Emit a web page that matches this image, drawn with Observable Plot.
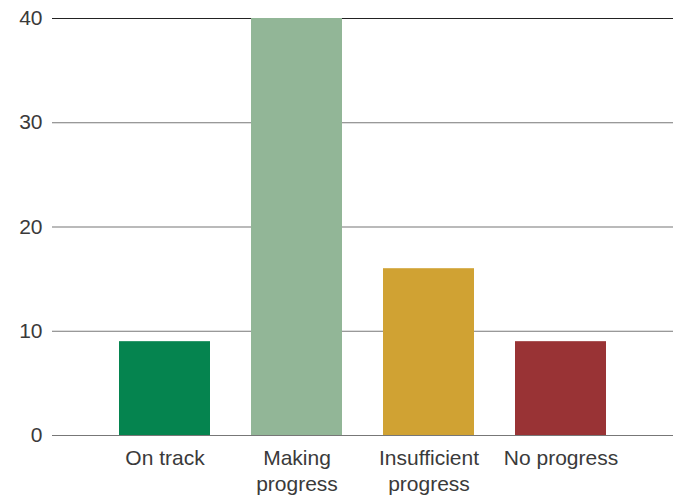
<!DOCTYPE html>
<html>
<head>
<meta charset="utf-8">
<script src="https://cdn.jsdelivr.net/npm/d3@7"></script>
<script src="https://cdn.jsdelivr.net/npm/@observablehq/plot@0.6"></script>
<style>
  html, body { margin: 0; padding: 0; background: #fff; }
</style>
</head>
<body>
<div id="chart"></div>
<script>
const categories = ["On track", "Making\nprogress", "Insufficient\nprogress", "No progress"];
const values = [9, 40, 16, 9];
const colors = ["#05844F", "#92B697", "#D0A233", "#993335"];
const yTicks = [0, 10, 20, 30, 40];

const data = categories.map((c, i) => ({category: c, value: values[i], color: colors[i]}));

const chart = Plot.plot({
  width: 673,
  height: 495,
  marginTop: 18,
  marginBottom: 60,
  marginLeft: 52,
  marginRight: 0,
  style: {fontFamily: "'Liberation Sans', Arial, sans-serif", fontSize: "21px", color: "#3a3a3a", background: "#fff"},
  x: {domain: categories, paddingInner: 0.308, paddingOuter: 0.489, align: 0.5, label: null},
  y: {domain: [0, 40], label: null},
  marks: [
    Plot.ruleY(yTicks, {stroke: d => d === 40 ? "#222" : "#777", strokeWidth: 1.2, strokeOpacity: 1}),
    Plot.barY(data, {x: "category", y: "value", fill: "color"}),
    Plot.axisY(yTicks, {tickSize: 0, tickPadding: 10, fontSize: 21, fill: "#3a3a3a"}),
    Plot.axisX({tickSize: 0, tickPadding: 12, fontSize: 21, lineHeight: 1.2, fill: "#3a3a3a"})
  ]
});
document.getElementById("chart").appendChild(chart);
</script>
</body>
</html>
